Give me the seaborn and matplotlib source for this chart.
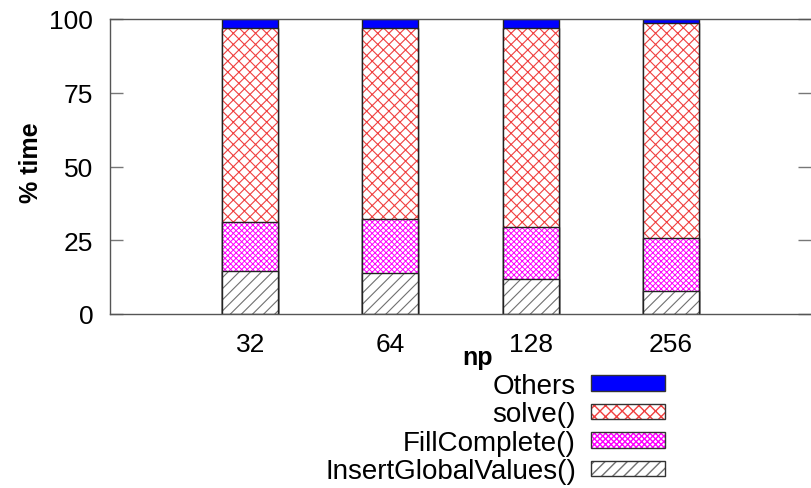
import numpy as np
import matplotlib
matplotlib.use("Agg")
import matplotlib.pyplot as plt
from matplotlib.patches import Patch
import seaborn as sns

# Share of run time per phase, for each process count
np_labels = ["32", "64", "128", "256"]
insert_vals = [14.7, 14.0, 11.8, 7.7]
fill_vals = [16.5, 18.1, 17.6, 18.0]
solve_vals = [65.85, 64.95, 67.4, 72.8]
others_vals = [2.95, 2.95, 3.2, 1.5]

series_names = ["InsertGlobalValues()", "FillComplete()", "solve()", "Others"]

sns.set_theme(style="white")
plt.rcParams["font.family"] = ["Liberation Sans", "DejaVu Sans"]
plt.rcParams["text.color"] = "black"
plt.rcParams["axes.labelcolor"] = "black"

fig = plt.figure(figsize=(8.11, 4.89), dpi=100)
ax = fig.add_axes([110 / 811, 1 - 315 / 489, 701 / 811, 295 / 489])

# cumulative tops so each lower segment is painted over the one above it
layers = [insert_vals, fill_vals, solve_vals, others_vals]
cum = np.cumsum(np.array(layers), axis=0)

styles = {
    "Others": dict(face="#0000ff", hatch=None, hcol="#0000ff", hlw=1.0),
    "solve()": dict(face="white", hatch="xxx", hcol="#f04040", hlw=0.8),
    "FillComplete()": dict(face="white", hatch="xxxxxx", hcol="#ff00ff", hlw=0.7),
    "InsertGlobalValues()": dict(face="white", hatch="///", hcol="#707070", hlw=0.8),
}

for idx in range(3, -1, -1):
    name = series_names[idx]
    st = styles[name]
    with plt.rc_context({"hatch.linewidth": st["hlw"]}):
        sns.barplot(x=np_labels, y=cum[idx], order=np_labels, color=st["face"],
                    saturation=1, width=0.4, errorbar=None, linewidth=0,
                    edgecolor=st["hcol"], hatch=st["hatch"], ax=ax)
    # segment outline
    sns.barplot(x=np_labels, y=cum[idx], order=np_labels, fill=False,
                width=0.4, errorbar=None, linewidth=1.0,
                edgecolor="#222222", ax=ax)

ax.set_xlim(-1.0, 4.0)
ax.set_ylim(0, 100)
ax.set_yticks([0, 25, 50, 75, 100])

for side in ["left", "top", "bottom"]:
    ax.spines[side].set_visible(True)
    ax.spines[side].set_color("#555555")
    ax.spines[side].set_linewidth(1.0)
ax.spines["right"].set_visible(False)

ax.tick_params(axis="y", direction="in", length=9.5, width=1.0,
               color="#777777", left=True, right=True, labelsize=19,
               pad=12, labelcolor="black")
ax.tick_params(axis="x", length=0, labelsize=19, pad=13, labelcolor="black")

ax.set_ylabel("% time", fontsize=18, fontweight="bold")
ax.yaxis.set_label_coords((43 - 110) / 701, (315 - 163) / 295)
ax.set_xlabel("np", fontsize=18, fontweight="bold")
ax.xaxis.set_label_coords((478 - 110) / 701, -0.105)

handles = []
legend_names = ["Others", "solve()", "FillComplete()", "InsertGlobalValues()"]
for name in legend_names:
    st = styles[name]
    with plt.rc_context({"hatch.linewidth": st["hlw"]}):
        fillp = Patch(facecolor=st["face"], edgecolor=st["hcol"], hatch=st["hatch"],
                      linewidth=0)
    edge = Patch(facecolor="none", edgecolor="#333333", linewidth=1.0)
    handles.append((fillp, edge))

leg = fig.legend(handles, legend_names,
                 loc="upper right", bbox_to_anchor=(665 / 811, 1 - 374 / 489),
                 frameon=False, markerfirst=False, fontsize=20,
                 handlelength=2.66, handleheight=0.49, handletextpad=0.54,
                 labelspacing=0.09, borderpad=0, borderaxespad=0)

fig.savefig("out.png", dpi=100)
